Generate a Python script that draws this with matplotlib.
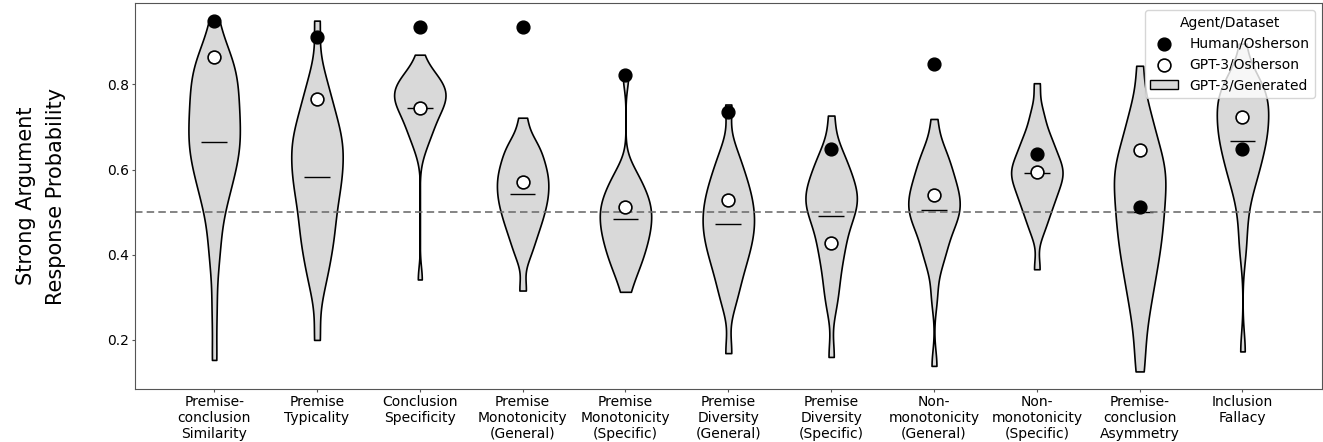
import matplotlib.pyplot as plt
from matplotlib.patches import Patch

categories = ['Premise-\nconclusion\nSimilarity', 'Premise\nTypicality', 'Conclusion\nSpecificity',
              'Premise\nMonotonicity\n(General)', 'Premise\nMonotonicity\n(Specific)',
              'Premise\nDiversity\n(General)', 'Premise\nDiversity\n(Specific)',
              'Non-\nmonotonicity\n(General)', 'Non-\nmonotonicity\n(Specific)',
              'Premise-\nconclusion\nAsymmetry', 'Inclusion\nFallacy']

# Human / Osherson and GPT-3 / Osherson responses
human_osherson = [0.948, 0.911, 0.936, 0.936, 0.823, 0.736, 0.648, 0.848, 0.637, 0.512, 0.648]
gpt3_osherson = [0.864, 0.765, 0.745, 0.571, 0.512, 0.528, 0.427, 0.541, 0.595, 0.646, 0.723]

# GPT-3 / Generated responses (estimated from the violins)
gen_similarity = [0.153, 0.27, 0.37, 0.42, 0.455, 0.50, 0.52, 0.54, 0.555, 0.57, 0.585, 0.60, 0.61, 0.62,
                  0.635, 0.64, 0.65, 0.66, 0.672, 0.685, 0.687, 0.698, 0.71, 0.721, 0.732, 0.743, 0.753, 0.764,
                  0.775, 0.786, 0.797, 0.807, 0.818, 0.83, 0.843, 0.852, 0.862, 0.875, 0.895, 0.95]
gen_typicality = [0.20, 0.313, 0.351, 0.378, 0.404, 0.424, 0.444, 0.461, 0.478, 0.494, 0.519, 0.533, 0.546,
                  0.56, 0.573, 0.586, 0.598, 0.611, 0.624, 0.638, 0.651, 0.664, 0.668, 0.682, 0.697, 0.713,
                  0.731, 0.748, 0.771, 0.795, 0.83, 0.95]
gen_specificity = [0.342, 0.64, 0.665, 0.68, 0.69, 0.70, 0.71, 0.72, 0.73, 0.737, 0.743, 0.749, 0.755, 0.76,
                   0.765, 0.77, 0.775, 0.78, 0.785, 0.79, 0.795, 0.80, 0.806, 0.812, 0.82, 0.826, 0.836, 0.87]
gen_mono_general = [0.316, 0.392, 0.417, 0.435, 0.452, 0.466, 0.477, 0.488, 0.499, 0.510, 0.519, 0.527, 0.536,
                    0.545, 0.554, 0.562, 0.571, 0.579, 0.588, 0.596, 0.605, 0.615, 0.626, 0.638, 0.649, 0.66,
                    0.675, 0.722]
gen_mono_specific = [0.313, 0.347, 0.363, 0.378, 0.392, 0.402, 0.413, 0.423, 0.433, 0.442, 0.451, 0.459, 0.467,
                     0.475, 0.483, 0.492, 0.499, 0.507, 0.515, 0.523, 0.531, 0.539, 0.55, 0.562, 0.573, 0.585,
                     0.608, 0.823]
gen_div_general = [0.169, 0.28, 0.31, 0.336, 0.356, 0.374, 0.39, 0.402, 0.415, 0.428, 0.439, 0.45, 0.46, 0.47,
                   0.481, 0.491, 0.502, 0.512, 0.523, 0.534, 0.546, 0.559, 0.572, 0.586, 0.605, 0.625, 0.652,
                   0.753]
gen_div_specific = [0.160, 0.275, 0.312, 0.343, 0.369, 0.395, 0.412, 0.428, 0.443, 0.466, 0.476, 0.487, 0.497,
                    0.507, 0.517, 0.527, 0.537, 0.537, 0.547, 0.558, 0.569, 0.581, 0.592, 0.604, 0.619, 0.636,
                    0.654, 0.727]
gen_nonmono_general = [0.139, 0.30, 0.364, 0.392, 0.409, 0.423, 0.437, 0.46, 0.468, 0.477, 0.485, 0.493, 0.501,
                       0.509, 0.517, 0.525, 0.533, 0.541, 0.549, 0.557, 0.567, 0.578, 0.59, 0.601, 0.613, 0.631,
                       0.638, 0.661, 0.719]
gen_nonmono_specific = [0.366, 0.451, 0.471, 0.491, 0.506, 0.517, 0.528, 0.539, 0.549, 0.558, 0.566, 0.574,
                        0.582, 0.590, 0.599, 0.597, 0.606, 0.615, 0.624, 0.633, 0.642, 0.654, 0.666, 0.677,
                        0.689, 0.719, 0.739, 0.803]
gen_asymmetry = [0.126, 0.19, 0.246, 0.280, 0.309, 0.333, 0.356, 0.374, 0.393, 0.410, 0.426, 0.441, 0.456, 0.470,
                 0.485, 0.499, 0.512, 0.526, 0.540, 0.553, 0.567, 0.580, 0.594, 0.598, 0.612, 0.627, 0.641, 0.658,
                 0.675, 0.703, 0.727, 0.751, 0.844]
gen_inclusion = [0.173, 0.41, 0.47, 0.52, 0.55, 0.571, 0.591, 0.600, 0.614, 0.628, 0.641, 0.654, 0.664, 0.675,
                 0.68, 0.69, 0.70, 0.71, 0.72, 0.73, 0.74, 0.75, 0.758, 0.766, 0.775, 0.783, 0.793, 0.805,
                 0.815, 0.826, 0.896]

generated = [gen_similarity, gen_typicality, gen_specificity, gen_mono_general, gen_mono_specific,
             gen_div_general, gen_div_specific, gen_nonmono_general, gen_nonmono_specific,
             gen_asymmetry, gen_inclusion]

fig, ax = plt.subplots(figsize=(13.23, 4.42), dpi=100)
fig.subplots_adjust(left=0.102, right=0.999, top=0.993, bottom=0.12)

pos = list(range(len(categories)))
vp = ax.violinplot(generated, positions=pos, widths=0.5, showmeans=True, showextrema=False, bw_method=0.31)
for body in vp['bodies']:
    body.set_facecolor('#d9d9d9')
    body.set_edgecolor('black')
    body.set_linewidth(1.2)
    body.set_alpha(1)
vp['cmeans'].set_color('black')
vp['cmeans'].set_linewidth(1.0)

ax.axhline(0.5, color='#707070', linestyle=(0, (4.5, 2.5)), linewidth=1.2)

h1 = ax.scatter(pos, human_osherson, s=85, color='black', zorder=3, label='Human/Osherson')
h2 = ax.scatter(pos, gpt3_osherson, s=85, facecolor='white', edgecolor='black', linewidth=1.2, zorder=3,
                label='GPT-3/Osherson')
h3 = Patch(facecolor='#d9d9d9', edgecolor='black', label='GPT-3/Generated')

ax.set_xticks(pos)
ax.set_xticklabels(categories, fontsize=10)
ax.set_xlim(-0.77, 10.77)
ax.set_yticks([0.2, 0.4, 0.6, 0.8])
ax.tick_params(axis='both', length=2, pad=2, color='#555555')
ax.tick_params(axis='y', labelsize=10)
ax.set_ylabel('Strong Argument\nResponse Probability', fontsize=15, labelpad=30, linespacing=1.6)
for sp in ax.spines.values():
    sp.set_color('#555555')

ax.legend(handles=[h1, h2, h3], title='Agent/Dataset', loc='upper right', fontsize=10, title_fontsize=10)

plt.savefig('out.png')
